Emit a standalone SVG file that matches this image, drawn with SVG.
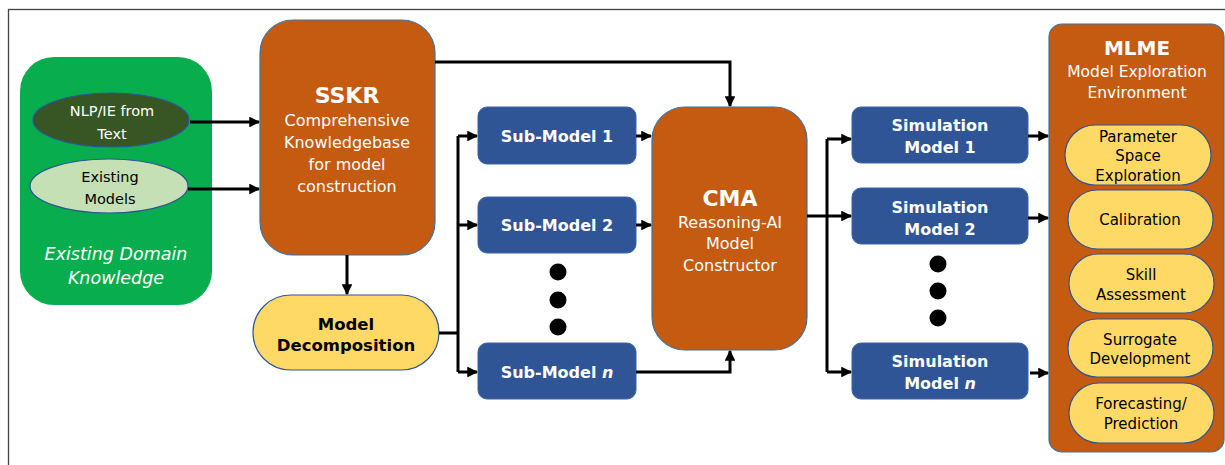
<svg xmlns="http://www.w3.org/2000/svg" width="1225" height="465" viewBox="0 0 1225 465">
<defs>
<marker id="ah" viewBox="0 0 10 10" refX="9" refY="5" markerWidth="3.6" markerHeight="3.6" orient="auto" markerUnits="strokeWidth">
<path d="M0,0 L10,5 L0,10 z" fill="#000"/>
</marker>
</defs>
<style>
.t{font-family:"DejaVu Sans",Verdana,sans-serif;text-anchor:middle}
.w{fill:#fff}
.k{fill:#000}
.b{font-weight:bold}
.orange{fill:#C55A11;stroke:#41719C;stroke-width:1.2}
.blue{fill:#2F5597;stroke:#3A64A8;stroke-width:1}
.yel{fill:#FFD966;stroke:#2F5597;stroke-width:1.2}
.c{fill:none;stroke:#000;stroke-width:3;stroke-linejoin:miter}
.dot{fill:#000}
</style>
<rect width="1225" height="465" fill="#fff"/>
<rect x="8.5" y="9.5" width="1240" height="480" fill="none" stroke="#444" stroke-width="1.3"/>

<g id="domain">
<rect x="20" y="57" width="192" height="248" rx="34" fill="#08AE4D"/>
<text class="t w" font-size="17.5" font-style="italic" x="116" y="260">Existing Domain</text>
<text class="t w" font-size="17.5" font-style="italic" x="116" y="284">Knowledge</text>
</g>
<g id="nlp">
<ellipse cx="111" cy="120" rx="78" ry="27" fill="#375623" stroke="#2F5597" stroke-width="1.2"/>
<text class="t w" font-size="14.5" x="112" y="116">NLP/IE from</text>
<text class="t w" font-size="14.5" x="112" y="139">Text</text>
</g>
<g id="existing">
<ellipse cx="109" cy="186" rx="79" ry="27" fill="#C5E0B4" stroke="#2F5597" stroke-width="1.2"/>
<text class="t k" font-size="14.5" x="110" y="182">Existing</text>
<text class="t k" font-size="14.5" x="110" y="204">Models</text>
</g>
<g id="sskr">
<rect class="orange" x="260" y="20" width="175" height="235" rx="33"/>
<text class="t w b" font-size="22" x="347" y="103">SSKR</text>
<text class="t w" font-size="16" x="347" y="126">Comprehensive</text>
<text class="t w" font-size="16" x="347" y="148">Knowledgebase</text>
<text class="t w" font-size="16" x="347" y="170">for model</text>
<text class="t w" font-size="16" x="347" y="192">construction</text>
</g>
<g id="decomp">
<rect class="yel" x="253" y="295" width="186" height="75" rx="37.5"/>
<text class="t k b" font-size="16.5" x="346" y="330">Model</text>
<text class="t k b" font-size="16.5" x="346" y="351">Decomposition</text>
</g>
<g id="sub1">
<rect class="blue" x="478" y="107" width="158" height="57" rx="9"/>
<text class="t w b" font-size="16" x="557" y="142">Sub-Model 1</text>
</g>
<g id="sub2">
<rect class="blue" x="478" y="197" width="158" height="56" rx="9"/>
<text class="t w b" font-size="16" x="557" y="231">Sub-Model 2</text>
</g>
<g id="subdots">
<circle class="dot" cx="558" cy="272" r="8.5"/>
<circle class="dot" cx="558" cy="300" r="8.5"/>
<circle class="dot" cx="558" cy="327" r="8.5"/>
</g>
<g id="subn">
<rect class="blue" x="478" y="343" width="158" height="56" rx="9"/>
<text class="t w b" font-size="16" x="557" y="378">Sub-Model <tspan font-style="italic">n</tspan></text>
</g>
<g id="cma">
<rect class="orange" x="652" y="107" width="155" height="243" rx="33"/>
<text class="t w b" font-size="22" x="730" y="206">CMA</text>
<text class="t w" font-size="16" x="730" y="228">Reasoning-AI</text>
<text class="t w" font-size="16" x="730" y="249">Model</text>
<text class="t w" font-size="16" x="730" y="271">Constructor</text>
</g>
<g id="sim1">
<rect class="blue" x="852" y="107" width="176" height="56" rx="9"/>
<text class="t w b" font-size="16" x="940" y="131">Simulation</text>
<text class="t w b" font-size="16" x="940" y="153">Model 1</text>
</g>
<g id="sim2">
<rect class="blue" x="852" y="188" width="176" height="56" rx="9"/>
<text class="t w b" font-size="16" x="940" y="213">Simulation</text>
<text class="t w b" font-size="16" x="940" y="235">Model 2</text>
</g>
<g id="simdots">
<circle class="dot" cx="938" cy="264" r="8.5"/>
<circle class="dot" cx="938" cy="291" r="8.5"/>
<circle class="dot" cx="938" cy="318" r="8.5"/>
</g>
<g id="simn">
<rect class="blue" x="852" y="343" width="176" height="56" rx="9"/>
<text class="t w b" font-size="16" x="940" y="367">Simulation</text>
<text class="t w b" font-size="16" x="940" y="389">Model <tspan font-style="italic">n</tspan></text>
</g>
<g id="mlme">
<rect class="orange" x="1049" y="24" width="175" height="428" rx="13"/>
<text class="t w b" font-size="20" x="1137" y="55">MLME</text>
<text class="t w" font-size="15.5" x="1137" y="77">Model Exploration</text>
<text class="t w" font-size="15.5" x="1137" y="98">Environment</text>
</g>
<g id="pse">
<rect class="yel" x="1065" y="125" width="146" height="60" rx="30"/>
<text class="t k" font-size="15" x="1138" y="142">Parameter</text>
<text class="t k" font-size="15" x="1138" y="161">Space</text>
<text class="t k" font-size="15" x="1138" y="181">Exploration</text>
</g>
<g id="calib">
<rect class="yel" x="1068" y="190" width="145" height="59" rx="29.5"/>
<text class="t k" font-size="15" x="1140" y="225">Calibration</text>
</g>
<g id="skill">
<rect class="yel" x="1069" y="254" width="145" height="59" rx="29.5"/>
<text class="t k" font-size="15" x="1141" y="280">Skill</text>
<text class="t k" font-size="15" x="1141" y="300">Assessment</text>
</g>
<g id="surrogate">
<rect class="yel" x="1068" y="319" width="145" height="58" rx="29"/>
<text class="t k" font-size="15" x="1140" y="345">Surrogate</text>
<text class="t k" font-size="15" x="1140" y="364">Development</text>
</g>
<g id="forecast">
<rect class="yel" x="1069" y="383" width="145" height="60" rx="30"/>
<text class="t k" font-size="15" x="1141" y="409">Forecasting/</text>
<text class="t k" font-size="15" x="1141" y="429">Prediction</text>
</g>

<g id="connectors">
<path class="c" d="M190,122 H259" marker-end="url(#ah)"/>
<path class="c" d="M188,189 H259" marker-end="url(#ah)"/>
<path class="c" d="M347,255 V294" marker-end="url(#ah)"/>
<path class="c" d="M435,62 H730 V106" marker-end="url(#ah)"/>
<path class="c" d="M439,333 H458"/>
<path class="c" d="M458,136 V372"/>
<path class="c" d="M458,136 H477" marker-end="url(#ah)"/>
<path class="c" d="M458,225 H477" marker-end="url(#ah)"/>
<path class="c" d="M458,372 H477" marker-end="url(#ah)"/>
<path class="c" d="M636,136 H651" marker-end="url(#ah)"/>
<path class="c" d="M636,225 H651" marker-end="url(#ah)"/>
<path class="c" d="M636,372 H730 V351" marker-end="url(#ah)"/>
<path class="c" d="M807,216 H827"/>
<path class="c" d="M827,139 V372"/>
<path class="c" d="M827,139 H851" marker-end="url(#ah)"/>
<path class="c" d="M827,216 H851" marker-end="url(#ah)"/>
<path class="c" d="M827,372 H851" marker-end="url(#ah)"/>
<path class="c" d="M1028,136 H1048" marker-end="url(#ah)"/>
<path class="c" d="M1028,218 H1048" marker-end="url(#ah)"/>
<path class="c" d="M1030,373 H1048" marker-end="url(#ah)"/>
</g>
</svg>
